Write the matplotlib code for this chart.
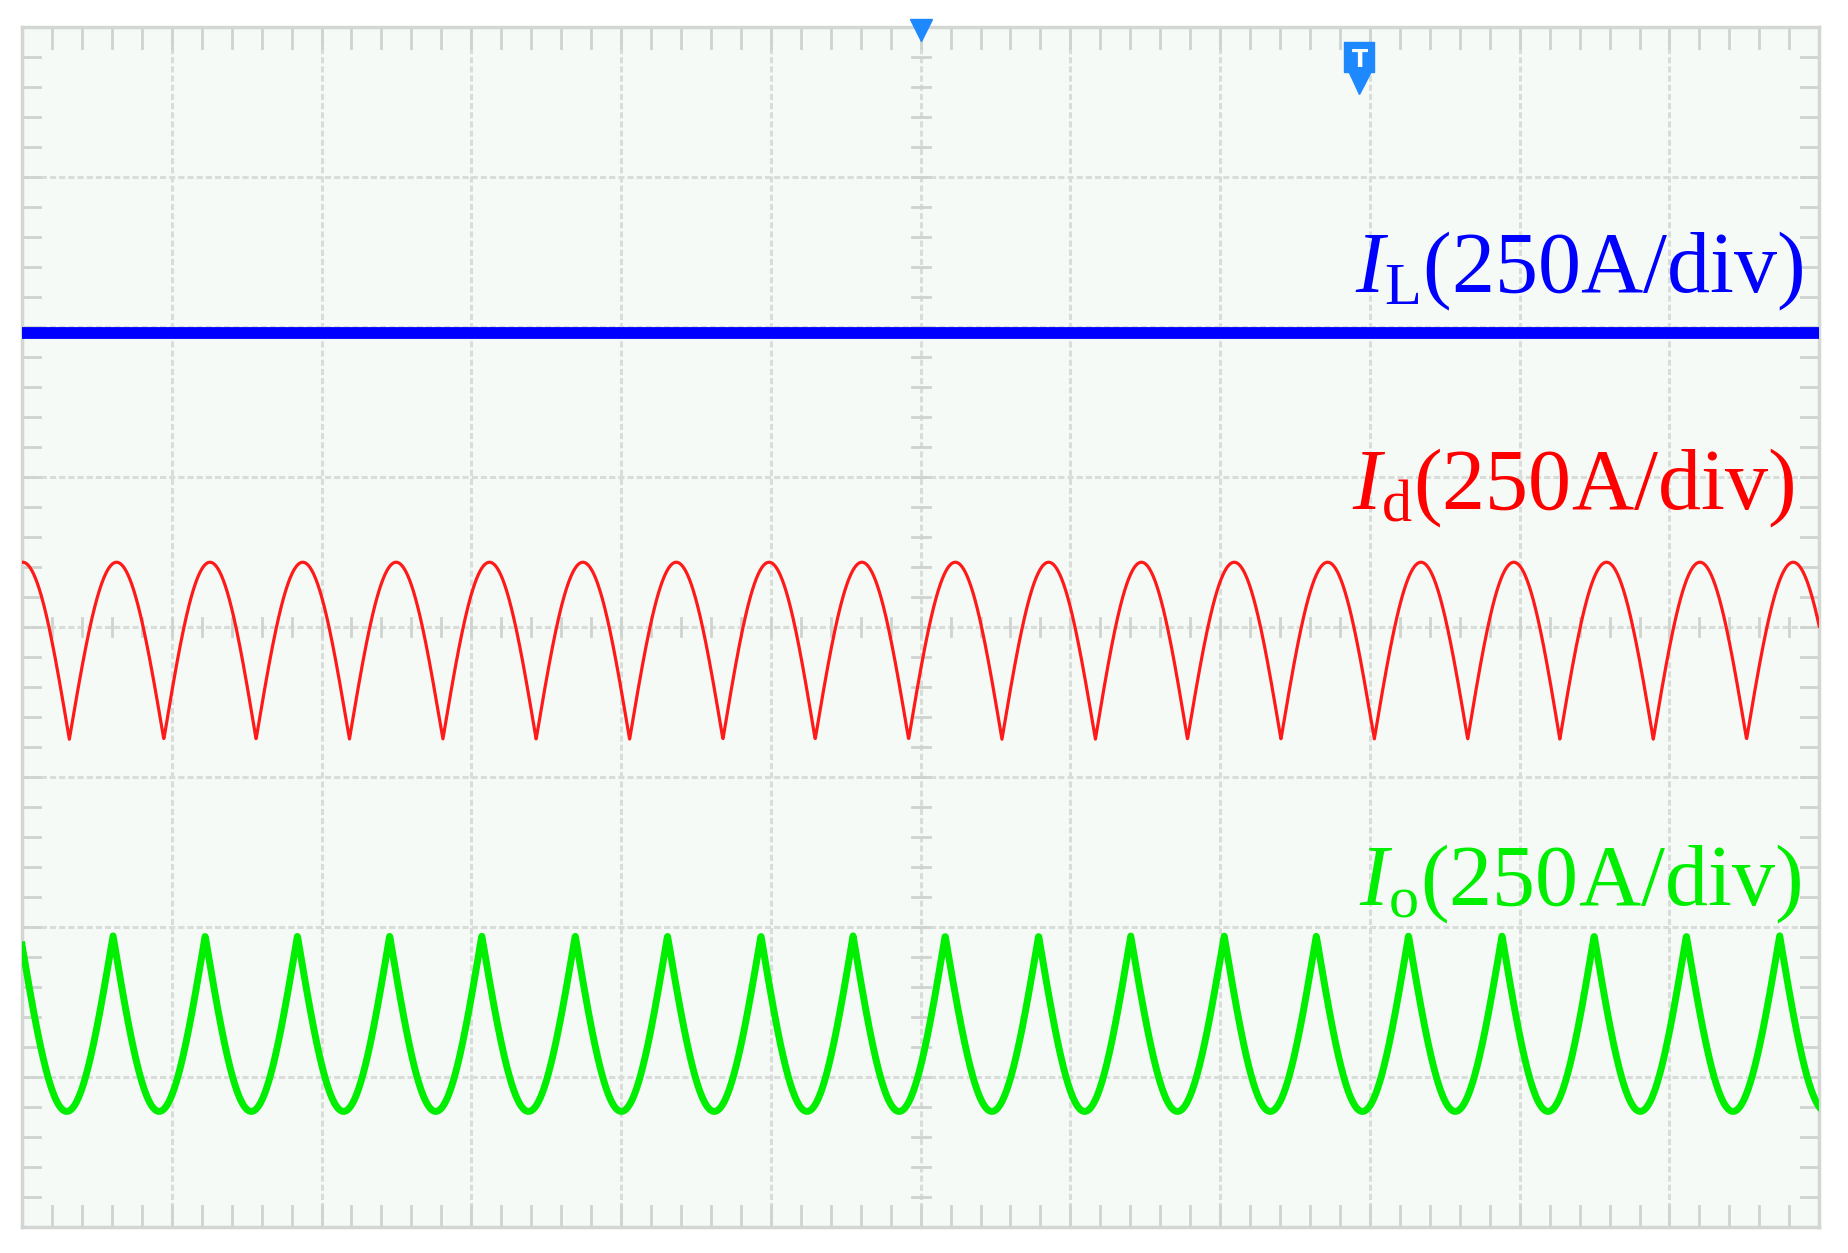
import numpy as np
import matplotlib
matplotlib.use("Agg")
import matplotlib.pyplot as plt

plt.rcParams['mathtext.fontset'] = 'custom'
plt.rcParams['mathtext.rm'] = 'Liberation Serif'
plt.rcParams['mathtext.it'] = 'Liberation Serif:italic'

# Data (screen divisions: x 0..12, y 0..8)
IL_level = 5.96
Id_trough_x = [0.316, 0.947, 1.563, 2.186, 2.81, 3.433, 4.057, 4.68, 5.296, 5.92,
               6.543, 7.167, 7.782, 8.406, 9.029, 9.653, 10.268, 10.892, 11.515]
Id_high, Id_low = 4.43, 3.25
Io_peak_x = [0.608, 1.223, 1.839, 2.455, 3.07, 3.694, 4.31, 4.934, 5.549, 6.164,
             6.788, 7.403, 8.027, 8.642, 9.258, 9.882, 10.497, 11.113, 11.736]
Io_high, Io_low = 1.94, 0.77
labels = [r"$\mathit{I}_{\mathrm{L}}$(250A/div)", r"$\mathit{I}_{\mathrm{d}}$(250A/div)",
          r"$\mathit{I}_{\mathrm{o}}$(250A/div)"]

def arcs(knots, x):
    k = np.array(knots)
    p = np.mean(np.diff(k))
    k = np.concatenate([[k[0] - p], k, [k[-1] + p]])
    idx = np.clip(np.searchsorted(k, x) - 1, 0, len(k) - 2)
    ph = (x - k[idx]) / (k[idx + 1] - k[idx])
    return np.sin(np.pi * ph)

fig = plt.figure(figsize=(18.49, 12.53), dpi=100)
ax = fig.add_axes([0.0119, 0.0208, 0.972, 0.958])
ax.set_xlim(0, 12); ax.set_ylim(0, 8)
ax.set_facecolor('#f6faf7')
for s in ax.spines.values():
    s.set_color('#d3d7d4'); s.set_linewidth(2.5)
ax.set_xticks([]); ax.set_yticks([])
gc = '#d9dddа'.replace('а', 'a')
for i in range(1, 12):
    ax.axvline(i, color=gc, lw=2.2, ls=(0, (2, 1)), zorder=1)
for j in range(1, 8):
    ax.axhline(j, color=gc, lw=2.2, ls=(0, (2, 1)), zorder=1)
mt = np.arange(0, 12.01, 0.2)
mty = np.arange(0, 8.01, 0.2)
tc = '#cfd3d0'
for xx in mt:
    ax.plot([xx, xx], [8, 7.86], color=tc, lw=2, zorder=1)
    ax.plot([xx, xx], [0, 0.14], color=tc, lw=2, zorder=1)
    ax.plot([xx, xx], [3.94, 4.06], color=tc, lw=2, zorder=1)
for yy in mty:
    ax.plot([0, 0.12], [yy, yy], color=tc, lw=2, zorder=1)
    ax.plot([12, 11.88], [yy, yy], color=tc, lw=2, zorder=1)
    ax.plot([5.94, 6.06], [yy, yy], color=tc, lw=2, zorder=1)

x = np.linspace(0, 12, 6000)
ax.axhline(IL_level, color='#0000ff', lw=8.5, zorder=3)
ax.plot(x, Id_low + (Id_high - Id_low) * arcs(Id_trough_x, x), color='#ff1a1a', lw=2.3, zorder=3)
ax.plot(x, Io_high - (Io_high - Io_low) * arcs(Io_peak_x, x), color='#00ee00', lw=5, zorder=3)

ax.text(11.9, 6.37, labels[0], color='#0000ff', fontsize=62, family='Liberation Serif',
        ha='right', va='center', zorder=4)
ax.text(11.83, 4.92, labels[1], color='#ff0000', fontsize=62, family='Liberation Serif',
        ha='right', va='center', zorder=4)
ax.text(11.88, 2.28, labels[2], color='#00ee00', fontsize=62, family='Liberation Serif',
        ha='right', va='center', zorder=4)

# trigger markers
ax.plot([6.0], [7.98], marker='v', color='#1e88ff', ms=16, clip_on=False, zorder=5)
ax.plot([8.93], [7.80], marker='s', color='#1e88ff', ms=22, zorder=5)
ax.plot([8.93], [7.64], marker='v', color='#1e88ff', ms=18, zorder=5)
ax.text(8.93, 7.78, 'T', color='white', fontsize=17, fontweight='bold', ha='center', va='center', zorder=6)

fig.savefig('out.png', dpi=100, facecolor='white')
